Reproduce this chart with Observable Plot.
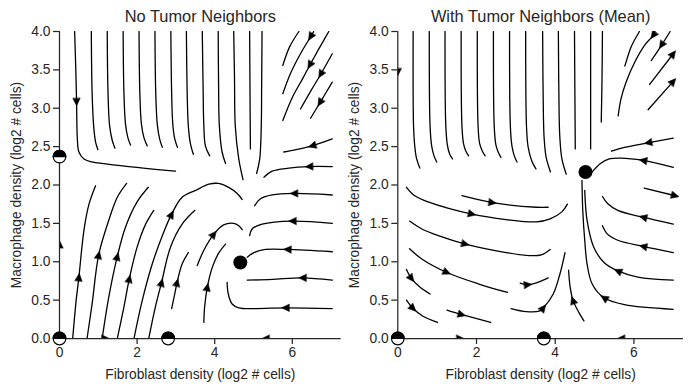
<!DOCTYPE html>
<html>
<head>
<meta charset="utf-8">
<script src="https://cdn.jsdelivr.net/npm/d3@7"></script>
<script src="https://cdn.jsdelivr.net/npm/@observablehq/plot@0.6"></script>
<style>
  html, body { margin: 0; padding: 0; background: #fff; }
  #wrap { display: flex; width: 688px; height: 391px; }
  #wrap svg { display: block; overflow: visible; }
</style>
</head>
<body>
<div id="wrap"></div>
<script>
// ---------- data (data units) ----------
const xTicks = [0, 2, 4, 6];
const yTicks = [0, 0.5, 1, 1.5, 2, 2.5, 3, 3.5, 4];
const titles = ["No Tumor Neighbors", "With Tumor Neighbors (Mean)"];
const xLabel = "Fibroblast density (log2 # cells)";
const yLabel = "Macrophage density (log2 # cells)";
const X_MAX = 7.26, Y_MAX = 4;

// streamlines (points in flow order), arrow = index of the point carrying an arrowhead
const leftStreams = [
  {pts: [[0.39,4.0],[0.42,3.5],[0.44,3.08],[0.46,2.60],[0.50,2.43],[0.63,2.34],[0.84,2.30],[1.62,2.25],[2.99,2.18]], arrow: 2},
  {pts: [[0.82,4.0],[0.84,3.21],[0.88,2.77],[0.93,2.56],[0.99,2.46]]},
  {pts: [[1.23,4.0],[1.25,3.21],[1.29,2.78],[1.36,2.58],[1.43,2.48]]},
  {pts: [[1.64,4.0],[1.66,3.21],[1.70,2.80],[1.76,2.62],[1.83,2.52]]},
  {pts: [[2.05,4.0],[2.07,3.21],[2.11,2.80],[2.18,2.61],[2.26,2.51]]},
  {pts: [[2.46,4.0],[2.48,3.21],[2.52,2.79],[2.58,2.60],[2.65,2.49]]},
  {pts: [[2.87,4.0],[2.89,3.21],[2.92,2.79],[2.97,2.60],[3.04,2.49]]},
  {pts: [[3.27,4.0],[3.29,3.21],[3.32,2.77],[3.37,2.55],[3.45,2.40]]},
  {pts: [[3.68,4.0],[3.70,3.3],[3.72,2.77],[3.76,2.51],[3.87,2.38]]},
  {pts: [[4.09,4.0],[4.10,3.3],[4.12,2.77],[4.19,2.43],[4.28,2.28]]},
  {pts: [[4.49,4.0],[4.51,3.4],[4.53,2.77],[4.62,2.34],[4.73,2.07]]},
  {pts: [[4.90,4.0],[4.91,3.2],[4.92,2.47]]},
  {pts: [[5.22,4.0],[5.21,3.3],[5.20,2.77],[5.16,2.34],[5.08,2.15]]},
  {pts: [[6.17,4.0],[5.93,3.80],[5.755,3.557]]},
  {pts: [[6.55,4.0],[6.47,3.93],[6.21,3.71],[5.95,3.45],[5.755,3.19]], arrow: 1},
  {pts: [[6.94,4.0],[6.68,3.77],[6.45,3.56],[6.26,3.38],[6.0,3.14],[5.755,2.84]], arrow: 2},
  {pts: [[7.03,3.71],[6.73,3.44],[6.47,3.22],[6.21,2.99]], arrow: 1},
  {pts: [[7.03,3.34],[6.71,3.07],[6.47,2.87]], arrow: 1},
  {pts: [[7.03,2.60],[6.51,2.51],[6.1,2.46],[5.78,2.43]], arrow: 1},
  {pts: [[7.03,2.24],[6.43,2.24],[5.91,2.22],[5.48,2.18],[5.27,2.10]], arrow: 1},
  {pts: [[7.03,1.87],[6.04,1.89],[5.48,1.87],[5.18,1.82],[5.03,1.73]], arrow: 1},
  {pts: [[7.03,1.50],[6.0,1.53],[5.22,1.49],[4.97,1.43],[4.90,1.34]], arrow: 1},
  {pts: [[7.03,1.13],[5.87,1.16],[5.31,1.16],[5.01,1.12],[4.84,1.06]], arrow: 1},
  {pts: [[7.03,0.76],[6.26,0.79],[5.48,0.77],[4.84,0.76]], arrow: 1},
  {pts: [[7.03,0.39],[5.82,0.40],[5.05,0.39],[4.62,0.40],[4.45,0.45],[4.35,0.58],[4.32,0.73]], arrow: 1},
  {pts: [[0.34,0.0],[0.43,0.50],[0.50,0.80],[0.63,1.41],[0.76,1.75],[0.93,1.99]], arrow: 2},
  {pts: [[0.71,0.0],[0.84,0.45],[1.01,1.09],[1.27,1.54],[1.49,1.84],[1.73,2.02]], arrow: 2},
  {pts: [[1.10,0.0],[1.27,0.54],[1.49,1.07],[1.70,1.45],[2.0,1.78],[2.29,1.97]], arrow: 2},
  {pts: [[1.49,0.0],[1.66,0.41],[1.80,0.78],[2.0,1.19],[2.22,1.49],[2.43,1.67]], arrow: 2},
  {pts: [[1.92,0.0],[2.13,0.49],[2.39,0.97],[2.65,1.34],[2.89,1.62],[3.16,1.84],[3.51,1.93],[3.85,2.01],[4.10,2.02],[4.36,1.97],[4.58,1.89],[4.71,1.81]], arrow: 4},
  {pts: [[2.30,0.0],[2.47,0.41],[2.63,0.73],[2.86,1.19],[3.16,1.49],[3.49,1.67]], arrow: 2},
  {pts: [[2.89,0.39],[2.97,0.58],[3.03,0.73],[3.16,0.97],[3.32,1.12]], arrow: 2},
  {pts: [[3.55,0.95],[3.72,1.15],[3.98,1.36],[4.23,1.48],[4.49,1.50],[4.62,1.47],[4.71,1.42]], arrow: 2},
  {pts: [[3.72,0.21],[3.74,0.41],[3.81,0.67],[3.94,0.93],[4.11,1.12],[4.28,1.23]], arrow: 2}
];
const rightStreams = [
  {pts: [[0.39,4.0],[0.40,2.77],[0.43,2.51],[0.47,2.36],[0.56,2.22]]},
  {pts: [[0.80,4.0],[0.82,2.77],[0.86,2.51],[0.92,2.38],[0.99,2.30]]},
  {pts: [[1.20,4.0],[1.22,2.77],[1.26,2.52],[1.32,2.40],[1.39,2.34]]},
  {pts: [[1.61,4.0],[1.63,2.77],[1.67,2.54],[1.73,2.44],[1.80,2.38]]},
  {pts: [[2.02,4.0],[2.04,2.77],[2.08,2.54],[2.15,2.44],[2.22,2.38]]},
  {pts: [[2.43,4.0],[2.45,2.77],[2.49,2.53],[2.55,2.43],[2.62,2.36]]},
  {pts: [[2.84,4.0],[2.86,2.77],[2.90,2.51],[2.96,2.38],[3.03,2.30]]},
  {pts: [[3.25,4.0],[3.27,2.77],[3.31,2.50],[3.40,2.32],[3.51,2.21]]},
  {pts: [[3.68,4.0],[3.70,2.9],[3.72,2.6],[3.77,2.36],[3.88,2.17]]},
  {pts: [[4.08,4.0],[4.10,2.9],[4.12,2.6],[4.17,2.34],[4.28,2.14]]},
  {pts: [[4.49,4.0],[4.50,3.2],[4.51,2.47]]},
  {pts: [[4.90,4.0],[4.90,3.2],[4.90,2.47]]},
  {pts: [[5.20,4.0],[5.19,3.4],[5.17,2.82]]},
  {pts: [[6.14,4.0],[5.93,3.80],[5.77,3.55]]},
  {pts: [[6.53,4.0],[6.49,3.95],[6.27,3.82],[6.02,3.60],[5.80,3.34],[5.67,3.12],[5.60,2.90]], arrow: 1},
  {pts: [[6.92,4.0],[6.70,3.82],[6.44,3.62]], arrow: 1},
  {pts: [[6.40,3.31],[7.0,3.71]], arrow: 1},
  {pts: [[6.36,2.98],[7.0,3.35]], arrow: 1},
  {pts: [[7.0,2.61],[6.36,2.55],[5.76,2.49],[5.43,2.44]], arrow: 1},
  {pts: [[7.0,2.23],[6.23,2.32],[5.67,2.35],[5.37,2.34],[5.15,2.28],[4.94,2.17]], arrow: 1},
  {pts: [[6.26,1.96],[7.05,1.86]], arrow: 1},
  {pts: [[7.0,1.49],[6.23,1.58],[5.59,1.67],[5.33,1.76],[5.20,1.85]], arrow: 1},
  {pts: [[7.0,1.12],[6.23,1.20],[5.59,1.28],[5.33,1.36],[5.20,1.47]], arrow: 1},
  {pts: [[7.0,0.76],[6.10,0.80],[5.59,0.88],[5.24,0.99],[4.98,1.19],[4.81,1.54],[4.75,1.93]], arrow: 2},
  {pts: [[7.0,0.38],[5.76,0.44],[5.24,0.53],[4.94,0.71],[4.81,0.97],[4.75,1.28],[4.70,1.67],[4.68,2.06]], arrow: 2},
  {pts: [[0.22,1.97],[0.43,1.86],[0.77,1.78],[1.89,1.62],[2.75,1.55],[3.52,1.52],[3.87,1.56],[4.17,1.65],[4.31,1.75]], arrow: 3},
  {pts: [[1.63,1.86],[2.41,1.77],[3.52,1.71],[3.82,1.71]], arrow: 1},
  {pts: [[0.30,1.53],[0.60,1.43],[1.03,1.34],[1.72,1.23],[2.75,1.12],[3.35,1.08],[3.65,1.09],[3.87,1.16]], arrow: 3},
  {pts: [[0.30,1.17],[0.60,1.04],[1.25,0.86],[2.06,0.71],[2.79,0.60]], arrow: 2},
  {pts: [[0.22,0.90],[0.35,0.78],[0.56,0.67],[0.82,0.58]], arrow: 1},
  {pts: [[0.22,0.50],[0.39,0.39],[0.64,0.29],[1.01,0.21]], arrow: 1},
  {pts: [[1.25,0.37],[1.63,0.31],[2.36,0.21]], arrow: 1},
  {pts: [[3.11,0.72],[3.31,0.70],[3.65,0.75],[3.82,0.79]], arrow: 1},
  {pts: [[2.88,0.39],[3.27,0.35],[3.61,0.36],[3.70,0.40],[3.95,0.58],[4.12,0.84],[4.25,1.12]], arrow: 3},
  {pts: [[4.73,0.23],[4.60,0.34],[4.45,0.50],[4.38,0.67],[4.34,0.89]], arrow: 2}
];
// arrowheads of the streamlines lying on the axes: [x, y, dirX, dirY]
const leftAxisArrows = [[1.19, 0, 1, 0], [5.31, 0, -1, 0], [0, 1.23, 0, 1]];
const rightAxisArrows = [[1.59, 0, 1, 0], [5.67, 0, -1, 0], [0, 3.47, 0, -1]];
// fixed points
const leftHalf = [[0, 2.37], [0, 0], [2.80, 0]];
const leftFull = [[4.66, 0.99]];
const rightHalf = [[0, 0], [3.71, 0]];
const rightFull = [[4.77, 2.17]];

// ---------- drawing ----------
const FONT = "'Liberation Sans', Arial, Helvetica, sans-serif";
const INK = "#262626";
const halfTop = {
  draw(context, size) {
    const r = Math.sqrt(size / Math.PI);
    context.moveTo(r, 0);
    context.arc(0, 0, r, 0, Math.PI, true);
    context.closePath();
  }
};
// filled arrowhead centred on its anchor, pointing "up" before rotation
const arrowHead = {
  draw(context) {
    context.moveTo(-3.6, 3.8);
    context.lineTo(0, -3.8);
    context.lineTo(3.6, 3.8);
    context.closePath();
  }
};

function arrowMark(data, clip) {
  if (typeof Plot.spike === "function") {
    return Plot.vector(data, {x: "x", y: "y", rotate: "rot", length: 1,
      shape: arrowHead, anchor: "start", fill: "black", stroke: "black", strokeWidth: 0.5, clip});
  }
  return Plot.text(data, {x: "x", y: "y", rotate: "rot", text: () => "\u25B2", fontSize: 8, fill: "black", clip});
}

function panel(streams, axisArrows, half, full, title, marginLeft, marginRight) {
  const width = 344, height = 391, mt = 31, mb = 53;
  const kx = (width - marginLeft - marginRight) / X_MAX;
  const ky = (height - mt - mb) / Y_MAX;
  const ang = (dx, dy) => Math.atan2(dx * kx, dy * ky) * 180 / Math.PI;
  const lineData = streams.flatMap((s, id) => s.pts.map(([x, y]) => ({id, x, y})));
  const arrows = streams.filter(s => s.arrow != null).map(s => {
    const p = s.pts, i = s.arrow;
    const a = p[Math.max(i - 1, 0)], b = p[Math.min(i + 1, p.length - 1)];
    return {x: p[i][0], y: p[i][1], rot: ang(b[0] - a[0], b[1] - a[1])};
  });
  const axArrows = axisArrows.map(([x, y, dx, dy]) => ({x, y, rot: ang(dx, dy)}));
  return Plot.plot({
    width, height, marginLeft, marginRight, marginTop: mt, marginBottom: mb,
    x: {domain: [0, X_MAX]},
    y: {domain: [0, Y_MAX]},
    style: {fontFamily: FONT, fontSize: "13.8px", color: INK, background: "white", overflow: "visible"},
    marks: [
      Plot.line(lineData, {x: "x", y: "y", z: "id", curve: "catmull-rom", stroke: "black", strokeWidth: 1.3, clip: true}),
      arrowMark(arrows, true),
      arrowMark(axArrows, true),
      Plot.ruleX([0], {stroke: INK, strokeWidth: 1.25}),
      Plot.ruleY([0], {stroke: INK, strokeWidth: 1.25}),
      Plot.axisX({ticks: xTicks, tickSize: 6, tickPadding: 3, tickFormat: d => String(d), fontSize: 13.8, label: null, strokeWidth: 1.25, color: INK}),
      Plot.axisY({ticks: yTicks, tickSize: 6, tickPadding: 3, tickFormat: d3.format(".1f"), fontSize: 13.8, label: null, strokeWidth: 1.25, color: INK}),
      Plot.text([title], {text: d => d, frameAnchor: "top", lineAnchor: "bottom", dy: -9.5, fontSize: 16.4, fill: INK}),
      Plot.text([xLabel], {text: d => d, frameAnchor: "bottom", lineAnchor: "bottom", dy: 40, fontSize: 13.8, fill: INK}),
      Plot.text([yLabel], {text: d => d, frameAnchor: "left", textAnchor: "middle", rotate: -90, dx: -43, lineAnchor: "middle", fontSize: 13.8, fill: INK}),
      Plot.dot(full, {x: d => d[0], y: d => d[1], r: 7, fill: "black"}),
      Plot.dot(half, {x: d => d[0], y: d => d[1], r: 6.3, fill: "white", stroke: "black", strokeWidth: 1.2}),
      Plot.dot(half, {x: d => d[0], y: d => d[1], r: 6.3, symbol: halfTop, fill: "black", stroke: "black", strokeWidth: 1.2})
    ]
  });
}

const wrap = document.getElementById("wrap");
wrap.appendChild(panel(leftStreams, leftAxisArrows, leftHalf, leftFull, titles[0], 59, 3.3));
wrap.appendChild(panel(rightStreams, rightAxisArrows, rightHalf, rightFull, titles[1], 53.3, 5));
</script>
</body>
</html>
